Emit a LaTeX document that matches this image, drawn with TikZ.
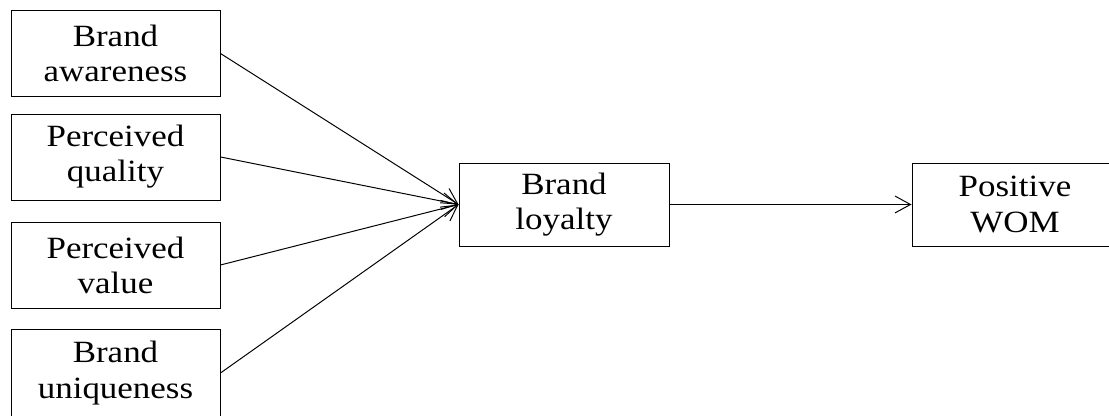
\documentclass[tikz,border=0pt]{standalone}
\usepackage{fontspec}
\setmainfont{Liberation Serif}[FakeStretch=1.13]
\usetikzlibrary{arrows.meta}

\tikzset{
    factor/.style={draw, line width=0.7pt, align=center, minimum width=5.225cm, minimum height=2.15cm,
        font=\fontsize{22}{25}\selectfont, inner sep=0pt},
    link/.style={line width=0.7pt, -{Straight Barb[length=11pt,width=12pt,line width=0.7pt]}}
}

\begin{document}
\begin{tikzpicture}

\useasboundingbox (0,0) rectangle (27.725,-10.4);

\node[factor] (aware) at (2.8875,-1.3375) {Brand\\awareness};
\node[factor] (quality) at (2.8875,-3.925) {Perceived\\quality};
\node[factor] (value) at (2.8875,-6.625) {Perceived\\value};
\node[factor, minimum height=2.2cm] (unique) at (2.8875,-9.325) {Brand\\uniqueness};

\node[factor, minimum width=5.25cm, minimum height=2.075cm] (loyal) at (14.1,-5.1125) {Brand\\loyalty};
\node[factor, minimum width=5.15cm, minimum height=2.075cm] (wom) at (25.375,-5.1125) {Positive\\WOM};

\foreach \i in {aware,quality,value,unique} {
        \draw[link] (\i.east) -- (loyal.west);
 }

\draw[link] (loyal) -- (wom);
\end{tikzpicture}
\end{document}
